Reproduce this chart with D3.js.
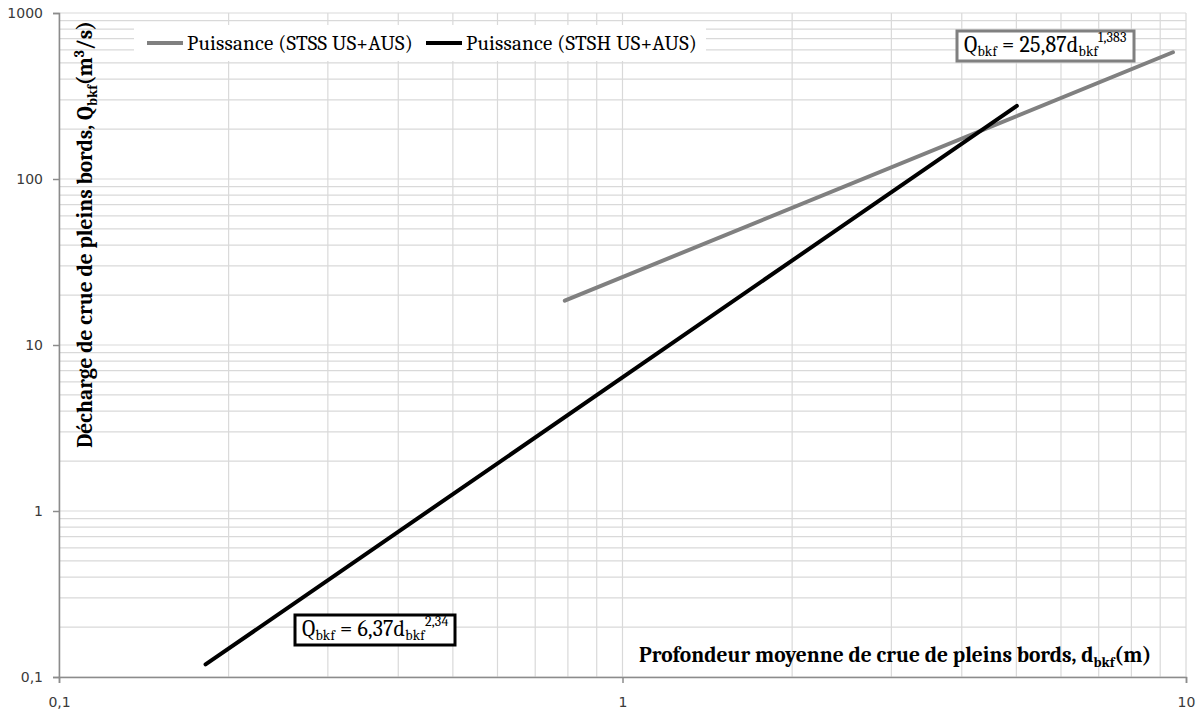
<!DOCTYPE html>
<html>
<head>
<meta charset="utf-8">
<script src="https://cdn.jsdelivr.net/npm/d3@7"></script>
<style>
  html, body { margin: 0; padding: 0; background: #fff; }
  svg { display: block; }
  .tick text { font-family: 'DejaVu Sans', Verdana, sans-serif; font-size: 14px; fill: #3a3a3a; }
</style>
</head>
<body>
<svg id="chart" width="1201" height="713"></svg>
<script>
// Regression lines (power law fits), endpoints of each fitted segment
const seriesNames = ["Puissance (STSS US+AUS)", "Puissance (STSH US+AUS)"];
const stssDepth = [0.79, 9.48];
const stssFlow = [18.5, 580];
const stshDepth = [0.182, 5.01];
const stshFlow = [0.119, 276];

const xTicks = [0.1, 1, 10];
const xTickLabels = ["0,1", "1", "10"];
const yTicks = [0.1, 1, 10, 100, 1000];
const yTickLabels = ["0,1", "1", "10", "100", "1000"];

const svg = d3.select("#chart");
const plotLeft = 59, plotRight = 1186, plotTop = 13, plotBottom = 677;

const x = d3.scaleLog().domain([0.1, 10]).range([plotLeft, plotRight]);
const y = d3.scaleLog().domain([0.1, 1000]).range([plotBottom, plotTop]);

const serif = "Cambria, 'Liberation Serif', 'DejaVu Serif', serif";

// Gridlines: every 1..9 multiple of each decade
function decadeValues(lo, hi) {
  const out = [];
  for (let e = Math.round(Math.log10(lo)); e < Math.round(Math.log10(hi)); e++) {
    for (let m = 1; m <= 9; m++) out.push(m * Math.pow(10, e));
  }
  out.push(hi);
  return out;
}
const grid = svg.append("g");
grid.selectAll("line.v").data(decadeValues(0.1, 10)).enter().append("line")
  .attr("x1", d => x(d)).attr("x2", d => x(d))
  .attr("y1", plotTop).attr("y2", plotBottom)
  .attr("stroke", "#d9d9d9").attr("stroke-width", 1.2);
grid.selectAll("line.h").data(decadeValues(0.1, 1000)).enter().append("line")
  .attr("x1", plotLeft).attr("x2", plotRight)
  .attr("y1", d => y(d)).attr("y2", d => y(d))
  .attr("stroke", "#d9d9d9").attr("stroke-width", 1.2);

// Axes
const xAxis = d3.axisBottom(x).tickValues(xTicks).tickFormat((d, i) => xTickLabels[i]).tickSize(6).tickPadding(14);
const yAxis = d3.axisLeft(y).tickValues(yTicks).tickFormat((d, i) => yTickLabels[i]).tickSize(6).tickPadding(10);

const gx = svg.append("g").attr("transform", `translate(0,${plotBottom})`).call(xAxis);
const gy = svg.append("g").attr("transform", `translate(${plotLeft},0)`).call(yAxis);
[gx, gy].forEach(g => {
  g.attr("font-size", null).attr("font-family", null);
  g.select(".domain").attr("stroke", "#8c8c8c").attr("stroke-width", 1.5);
  g.selectAll(".tick line").attr("stroke", "#8c8c8c").attr("stroke-width", 1.5);
});

// Legend (white box over the grid)
const legend = svg.append("g");
legend.append("rect").attr("x", 134).attr("y", 25).attr("width", 572).attr("height", 36).attr("fill", "#fff");
const legendItems = [
  { name: seriesNames[0], color: "#808080", x0: 147 },
  { name: seriesNames[1], color: "#000000", x0: 426 }
];
legendItems.forEach(it => {
  legend.append("line").attr("x1", it.x0).attr("x2", it.x0 + 36).attr("y1", 43).attr("y2", 43)
    .attr("stroke", it.color).attr("stroke-width", 4);
  legend.append("text").attr("x", it.x0 + 40).attr("y", 50).attr("font-family", serif)
    .attr("font-size", 21).attr("letter-spacing", 0.2).attr("fill", "#000").text(it.name);
});

// Fitted lines
const line = d3.line().x(d => x(d[0])).y(d => y(d[1]));
svg.append("path").datum(d3.zip(stssDepth, stssFlow)).attr("d", line)
  .attr("fill", "none").attr("stroke", "#808080").attr("stroke-width", 4).attr("stroke-linecap", "round");
svg.append("path").datum(d3.zip(stshDepth, stshFlow)).attr("d", line)
  .attr("fill", "none").attr("stroke", "#000").attr("stroke-width", 4).attr("stroke-linecap", "round");

// Equation labels
function equation(bx, by, bw, bh, stroke, coef, expo) {
  const g = svg.append("g");
  g.append("rect").attr("x", bx).attr("y", by).attr("width", bw).attr("height", bh)
    .attr("fill", "#fff").attr("stroke", stroke).attr("stroke-width", 3);
  const t = g.append("text").attr("x", bx + 7).attr("y", by + 21).attr("font-family", serif)
    .attr("font-size", 22).attr("letter-spacing", 0.2).attr("fill", "#000");
  t.append("tspan").text("Q");
  t.append("tspan").attr("font-size", 14).attr("dy", 4).text("bkf");
  t.append("tspan").attr("dy", -4).text(" = " + coef + "d");
  t.append("tspan").attr("font-size", 14).attr("dy", 4).text("bkf");
  t.append("tspan").attr("font-size", 14).attr("dy", -14).text(expo);
}
equation(957, 31, 177, 30, "#808080", "25,87", "1,383");
equation(295, 615, 160, 30, "#000", "6,37", "2,34");

// Axis titles
const xt = svg.append("text").attr("x", 639).attr("y", 662).attr("font-family", serif)
  .attr("font-size", 21.5).attr("font-weight", "bold").attr("fill", "#000");
xt.append("tspan").text("Profondeur moyenne de crue de pleins bords, d");
xt.append("tspan").attr("font-size", 14).attr("dy", 5).text("bkf");
xt.append("tspan").attr("dy", -5).text("(m)");

const yt = svg.append("text").attr("transform", "translate(92,448) rotate(-90)")
  .attr("font-family", serif).attr("font-size", 21.5).attr("font-weight", "bold").attr("fill", "#000");
yt.append("tspan").text("Décharge de crue de pleins bords, Q");
yt.append("tspan").attr("font-size", 14).attr("dy", 5).text("bkf");
yt.append("tspan").attr("dy", -5).text("(m");
yt.append("tspan").attr("font-size", 14).attr("dy", -8).text("3");
yt.append("tspan").attr("dy", 8).text("/s)");
</script>
</body>
</html>
